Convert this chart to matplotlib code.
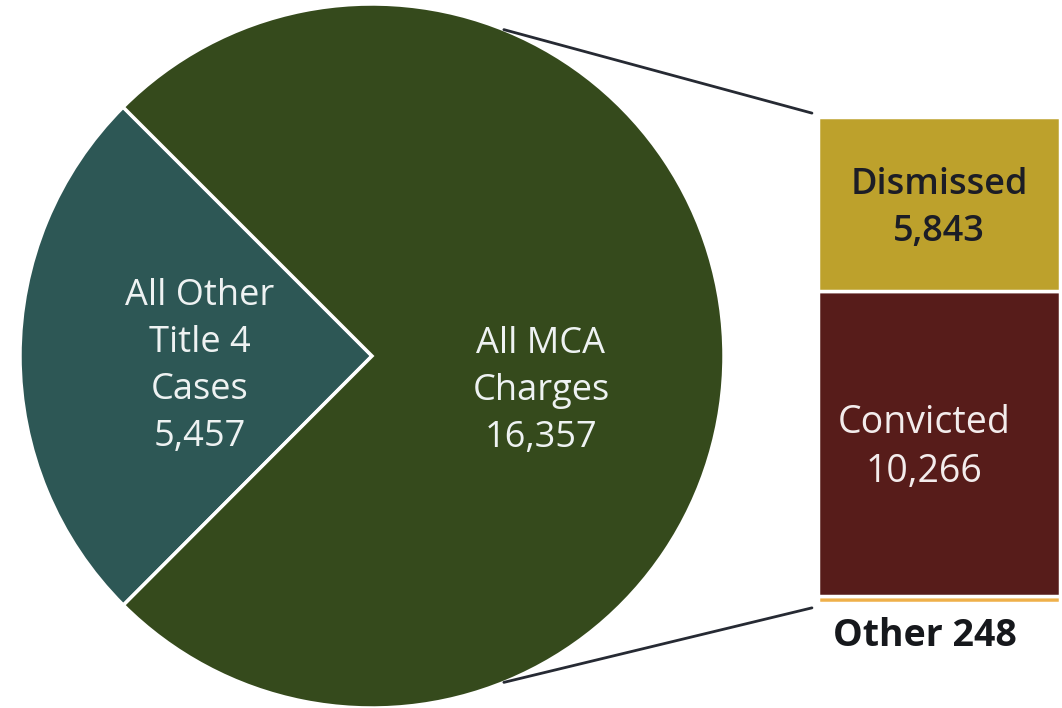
import numpy as np
import matplotlib.pyplot as plt
from matplotlib.patches import ConnectionPatch

# ------------------------------------------------------------------
# Data
# ------------------------------------------------------------------
pie_labels = ['All Other\nTitle 4\nCases\n5,457', 'All MCA\nCharges\n16,357']
pie_values = [5457, 16357]

bar_labels = ['Other 248', 'Convicted\n10,266', 'Dismissed\n5,843']
bar_values = [248, 10266, 5843]

# ------------------------------------------------------------------
# Styling
# ------------------------------------------------------------------
plt.rcParams['font.family'] = ['Open Sans', 'DejaVu Sans']

TEAL = '#2d5755'
GREEN = '#354a1c'
GOLD = '#bda12c'
MAROON = '#571c1a'
ORANGE = '#efb04a'
LINE = '#262a33'

W, H = 1062, 708
fig = plt.figure(figsize=(W / 100, H / 100), dpi=100)

# pie axes in pixel units
ax = fig.add_axes([0, 0, 1, 1])
cx, cy, R = 372, 352, 352
wedges, _ = ax.pie(pie_values, colors=[TEAL, GREEN], startangle=135,
                   center=(cx, cy), radius=R,
                   wedgeprops=dict(edgecolor='white', linewidth=2.5))
ax.set_xlim(0, W)
ax.set_ylim(0, H)
ax.set_aspect('auto')
ax.axis('off')

# labels on the pie
ax.text(cx - 0.49 * R, cy - 0.03 * R, pie_labels[0], color='#eef2f2',
        fontsize=26, ha='center', va='center', linespacing=1.4)
ax.text(cx + 0.48 * R, cy - 0.1 * R, pie_labels[1], color='#eef2f2',
        fontsize=26, ha='center', va='center', linespacing=1.4)

# ------------------------------------------------------------------
# stacked bar of the MCA charges
# ------------------------------------------------------------------
bx0, bx1 = 818, 1060
by0, by1 = 105, 591
axb = fig.add_axes([bx0 / W, by0 / H, (bx1 - bx0) / W, (by1 - by0) / H])
total = sum(bar_values)
bottom = 0
bar_colors = [ORANGE, MAROON, GOLD]
mids = []
for val, col in zip(bar_values, bar_colors):
    axb.bar(0, val, width=1.0, bottom=bottom, color=col,
            edgecolor='white', linewidth=2.5)
    mids.append(bottom + val / 2)
    bottom += val
axb.set_xlim(-0.5, 0.5)
axb.set_ylim(0, total)
axb.axis('off')

axb.text(0, mids[2] - 170, bar_labels[2], color='#1c1d26', fontsize=26,
         fontweight='semibold', ha='center', va='center', linespacing=1.4)
axb.text(-0.06, mids[1] - 150, bar_labels[1], color='#f3ecec', fontsize=27,
         ha='center', va='center', linespacing=1.4)
axb.annotate(bar_labels[0], xy=(-0.06, 0), xytext=(0, -10),
             textcoords='offset points', color='#16181c', fontsize=27,
             fontweight='bold', ha='center', va='top',
             annotation_clip=False)

# connector lines from pie edge to bar
for ang, ybar in [(68, 1.008), (-68, -0.01)]:
    t = np.deg2rad(ang)
    con = ConnectionPatch(xyA=(-0.525, ybar * total), coordsA=axb.transData,
                          xyB=(cx + R * np.cos(t), cy + R * np.sin(t)),
                          coordsB=ax.transData, color=LINE, linewidth=2.0)
    fig.add_artist(con)

fig.savefig('out.png', dpi=100, facecolor='white')
